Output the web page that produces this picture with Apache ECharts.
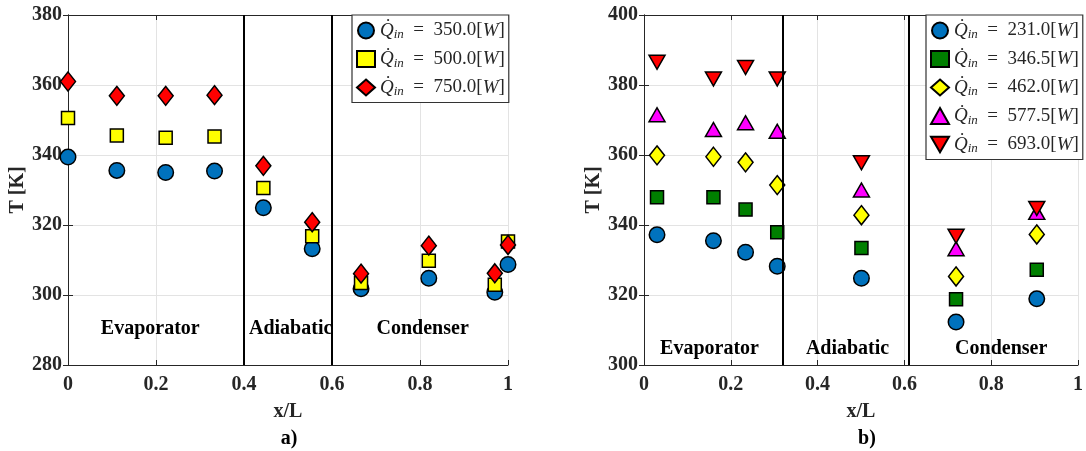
<!DOCTYPE html>
<html>
<head>
<meta charset="utf-8">
<script src="https://cdn.jsdelivr.net/npm/echarts@6/dist/echarts.min.js"></script>
<style>
html,body{margin:0;padding:0;background:#fff;}
#c{width:1086px;height:451px;}
</style>
</head>
<body>
<div id="c"></div>
<script>
// ---- data: panel a) ----
const xA = [0, 0.111, 0.222, 0.333, 0.444, 0.555, 0.666, 0.82, 0.97, 1.0];
const a350 = [339.4, 335.6, 335.0, 335.4, 324.9, 313.2, 301.8, 304.8, 300.8, 308.7];
const a500 = [350.6, 345.6, 344.9, 345.3, 330.6, 316.8, 303.4, 309.8, 302.9, 315.3];
const a750 = [361.0, 356.9, 356.9, 357.1, 336.9, 320.8, 306.1, 314.1, 306.2, 314.3];
const namesA = ['350.0', '500.0', '750.0'];
// ---- data: panel b) ----
const xB = [0.03, 0.16, 0.234, 0.307, 0.501, 0.719, 0.905];
const b231 = [337.2, 335.5, 332.2, 328.2, 324.8, 312.3, 318.9];
const b346 = [347.9, 347.9, 344.4, 337.9, 333.4, 318.8, 327.2];
const b462 = [359.9, 359.5, 357.9, 351.4, 342.8, 325.3, 337.3];
const b577 = [371.5, 367.3, 369.2, 366.8, 350.0, 333.2, 343.6];
const b693 = [386.5, 381.7, 385.0, 381.7, 357.8, 336.8, 344.7];
const namesB = ['231.0', '346.5', '462.0', '577.5', '693.0'];
// section boundaries and region labels
const bordersA = [0.4, 0.6];
const bordersB = [0.32, 0.613];
const regionsA = [['Evaporator', 0.187, 290.3], ['Adiabatic', 0.506, 290.3], ['Condenser', 0.806, 290.3]];
const regionsB = [['Evaporator', 0.151, 304.6], ['Adiabatic', 0.469, 304.6], ['Condenser', 0.823, 304.6]];
const yTicksA = {min: 280, max: 380, interval: 20};
const yTicksB = {min: 300, max: 400, interval: 20};

const FONT = '"Liberation Serif","Times New Roman",serif';
const AX = '#262626';
const downTri = 'path://M0,0L20,0L10,17.32Z';

function pairs(xs, ys) { return xs.map((x, i) => [x, ys[i]]); }

function xAxes(g) {
  return [{
    gridIndex: g, type: 'value', min: 0, max: 1, interval: 0.2,
    name: 'x/L', nameLocation: 'middle', nameGap: 37,
    nameTextStyle: {fontFamily: FONT, fontWeight: 'bold', fontSize: 20, color: AX},
    axisLine: {show: true, lineStyle: {color: AX, width: 1}},
    axisTick: {show: true, inside: true, length: 5, lineStyle: {color: AX}},
    axisLabel: {fontFamily: FONT, fontWeight: 'bold', fontSize: 20, color: AX, margin: 10},
    splitLine: {show: true, lineStyle: {color: '#e3e3e3', width: 1}}
  }, {
    gridIndex: g, type: 'value', min: 0, max: 1, interval: 0.2, position: 'top',
    axisLine: {show: true, lineStyle: {color: AX, width: 1}},
    axisTick: {show: true, inside: true, length: 5, lineStyle: {color: AX}},
    axisLabel: {show: false}, splitLine: {show: false}
  }];
}
function yAxes(g, t) {
  return [{
    gridIndex: g, type: 'value', min: t.min, max: t.max, interval: t.interval,
    name: 'T [K]', nameLocation: 'middle', nameGap: 38,
    nameTextStyle: {fontFamily: FONT, fontWeight: 'bold', fontSize: 20, color: AX},
    axisLine: {show: true, lineStyle: {color: AX, width: 1}},
    axisTick: {show: true, inside: true, length: 5, lineStyle: {color: AX}},
    axisLabel: {fontFamily: FONT, fontWeight: 'bold', fontSize: 20, color: AX, margin: 6, padding: [4, 0, 0, 0]},
    splitLine: {show: true, lineStyle: {color: '#e3e3e3', width: 1}}
  }, {
    gridIndex: g, type: 'value', min: t.min, max: t.max, interval: t.interval, position: 'right',
    axisLine: {show: true, lineStyle: {color: AX, width: 1}},
    axisTick: {show: true, inside: true, length: 5, lineStyle: {color: AX}},
    axisLabel: {show: false}, splitLine: {show: false}
  }];
}

function series(name, g, xs, ys, symbol, size, color, extra) {
  const s = {
    type: 'scatter', name: name, xAxisIndex: g * 2, yAxisIndex: g * 2,
    data: pairs(xs, ys), symbol: symbol, symbolSize: size,
    itemStyle: {color: color, borderColor: '#000', borderWidth: 1.5, opacity: 1},
    emphasis: {disabled: true}, z: 3
  };
  return Object.assign(s, extra || {});
}
function decorations(borders, regions) {
  return {
    markLine: {
      silent: true, symbol: ['none', 'none'], animation: false,
      label: {show: false},
      lineStyle: {color: '#000', width: 2, type: 'solid'},
      emphasis: {disabled: true},
      data: borders.map(b => ({xAxis: b}))
    },
    markPoint: {
      silent: true, symbol: 'circle', symbolSize: 0, animation: false,
      label: {show: true, position: 'inside', formatter: p => p.name,
        fontFamily: FONT, fontWeight: 'bold', fontSize: 20, color: '#000'},
      data: regions.map(r => ({name: r[0], coord: [r[1], r[2]]}))
    }
  };
}

const legendText = {
  fontFamily: FONT, fontSize: 19, color: AX,
  rich: {
    q: {fontFamily: FONT, fontStyle: 'italic', fontSize: 19, color: AX, lineHeight: 22},
    s: {fontFamily: FONT, fontStyle: 'italic', fontSize: 13, color: AX, lineHeight: 12, verticalAlign: 'bottom'},
    t: {fontFamily: FONT, fontSize: 19, color: AX, lineHeight: 22},
    w: {fontFamily: FONT, fontStyle: 'italic', fontSize: 19, color: AX, lineHeight: 22}
  }
};
const legendFmt = n => '{q|Q\u0307}{s|in}{t|\u2002=\u2002' + n + '[}{w|W}{t|]}';

function legend(names, left) {
  return {
    data: names, orient: 'vertical', left: left, top: 15,
    itemWidth: 18, itemHeight: 16, itemGap: 8,
    padding: [6, 4, 4, 4],
    backgroundColor: '#fff', borderColor: '#333', borderWidth: 1.2,
    selectedMode: false, formatter: legendFmt, textStyle: legendText
  };
}

const option = {
  animation: false,
  backgroundColor: '#fff',
  grid: [
    {left: 68, top: 15, width: 440, height: 350, show: false},
    {left: 644, top: 15, width: 440, height: 350, show: false}
  ],
  xAxis: [].concat(xAxes(0), xAxes(1)),
  yAxis: [].concat(yAxes(0, yTicksA), yAxes(1, yTicksB)),
  legend: [legend(namesA, 352), legend(namesB, 926)],
  title: [
    {text: 'a)', left: 289, top: 429, textAlign: 'center',
      textStyle: {fontFamily: FONT, fontWeight: 'bold', fontSize: 20, color: '#000'}, padding: 0},
    {text: 'b)', left: 867, top: 429, textAlign: 'center',
      textStyle: {fontFamily: FONT, fontWeight: 'bold', fontSize: 20, color: '#000'}, padding: 0}
  ],
  series: [
    series(namesA[0], 0, xA, a350, 'circle', 15.5, '#0072BD', decorations(bordersA, regionsA)),
    series(namesA[1], 0, xA, a500, 'rect', 13, '#FFFF00'),
    series(namesA[2], 0, xA, a750, 'diamond', [15, 19], '#FF0000'),
    series(namesB[0], 1, xB, b231, 'circle', 15.5, '#0072BD', decorations(bordersB, regionsB)),
    series(namesB[1], 1, xB, b346, 'rect', 13, '#007F00'),
    series(namesB[2], 1, xB, b462, 'diamond', [15, 19], '#FFFF00'),
    series(namesB[3], 1, xB, b577, 'triangle', [16, 14], '#FF00FF'),
    series(namesB[4], 1, xB, b693, downTri, [16, 14], '#FF0000')
  ]
};
const chart = echarts.init(document.getElementById('c'), null, {renderer: 'canvas'});
chart.setOption(option);
</script>
</body>
</html>
